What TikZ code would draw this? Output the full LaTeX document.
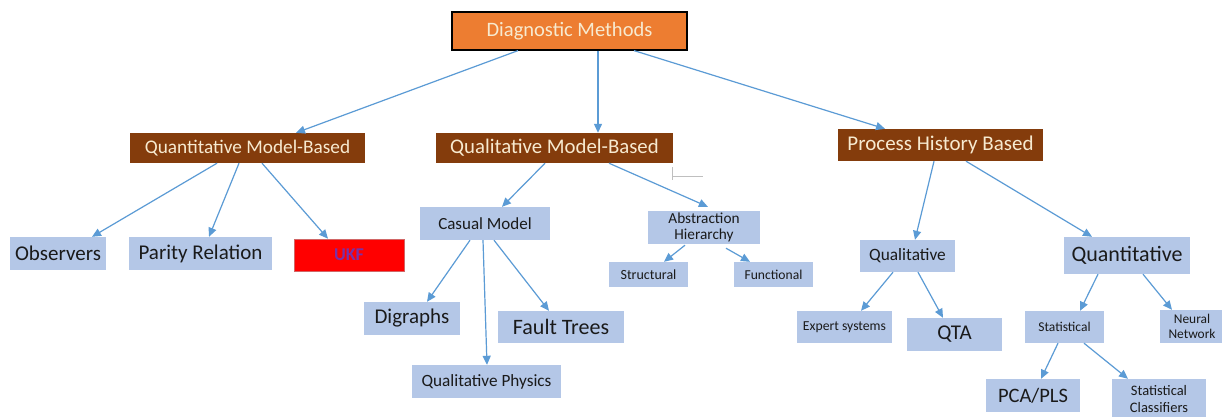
\documentclass[tikz,border=0pt]{standalone}
\usepackage{fontspec}
\setmainfont{Carlito}
\usetikzlibrary{arrows.meta}
\definecolor{linkblue}{HTML}{5B9BD5}
\definecolor{rootorange}{HTML}{ED7D31}
\definecolor{branchbrown}{HTML}{843C0C}
\definecolor{leafblue}{HTML}{B4C7E7}
\definecolor{cream}{HTML}{F7EAD0}
\definecolor{leaftext}{HTML}{1A1A1A}
\definecolor{ukfpurple}{HTML}{7A30A8}
\definecolor{markgrey}{HTML}{BFBFBF}
\newcommand{\fs}[1]{\fontsize{#1}{#1}\selectfont}
\tikzset{
  sz/.style 2 args={minimum width=#1pt, minimum height=#2pt},
  rootbox/.style={rectangle, inner sep=0pt, fill=rootorange, draw=black, line width=1.2pt, text=cream},
  branchbox/.style={rectangle, inner sep=0pt, fill=branchbrown, text=cream},
  leafbox/.style={rectangle, inner sep=0pt, fill=leafblue, text=leaftext, align=center},
  redbox/.style={rectangle, inner sep=0pt, fill=red, draw=red!70!black!60, line width=0.6pt, text=ukfpurple},
  link/.style={draw=linkblue, line width=1.2pt, -{Triangle[length=9pt,width=8pt]}},
}
\begin{document}
\begin{tikzpicture}[x=1pt,y=-1pt]
\useasboundingbox (0,0) rectangle (1222,416);
\fill[white] (0,0) rectangle (1222,416);

% top level
\node[rootbox, sz={235}{38}, font=\fs{20.5}] (dm) at (569.5,31) {Diagnostic Methods};

% second level
\node[branchbox, sz={235}{30}, font=\fs{19.3}] (qmb) at (247.5,148) {Quantitative Model-Based};
\node[branchbox, sz={237}{30}, font=\fs{20.8}] (lmb) at (554.5,148) {Qualitative Model-Based};
\node[branchbox, sz={205}{32}, font=\fs{21}] (phb) at (940.5,145) {Process History Based};

% quantitative model-based children
\node[leafbox, sz={96}{33}, font=\fs{21}] (obs) at (58,253.5) {Observers};
\node[leafbox, sz={143}{33}, font=\fs{21}] (par) at (200.5,253.5) {Parity Relation};
\node[redbox, sz={110}{32}, font=\fs{18}\bfseries] (ukf) at (349,255) {UKF};

% qualitative model-based children
\node[leafbox, sz={130}{33}, font=\fs{17}] (cas) at (485,223.5) {Casual Model};
\node[leafbox, sz={112}{33}, font={\fontsize{15.3}{16.5}\selectfont}] (abs) at (704,227.5) {Abstraction\\Hierarchy};
\node[leafbox, sz={79}{25}, font=\fs{14}] (str) at (648.5,274.5) {Structural};
\node[leafbox, sz={79}{25}, font=\fs{13.6}] (fun) at (773.5,274.5) {Functional};
\node[leafbox, sz={96}{33}, font=\fs{21}] (dig) at (412,318.5) {Digraphs};
\node[leafbox, sz={126}{32}, font=\fs{22}] (ft) at (561,327) {Fault Trees};
\node[leafbox, sz={149}{33}, font=\fs{17.2}] (qph) at (486.5,381.5) {Qualitative Physics};

% process history based children
\node[leafbox, sz={95}{32}, font=\fs{17.3}] (qual) at (907.5,256) {Qualitative};
\node[leafbox, sz={126}{37}, font=\fs{22}] (quan) at (1127,255.5) {Quantitative};
\node[leafbox, sz={95}{32}, font=\fs{13.7}] (exp) at (844.5,327) {Expert systems};
\node[leafbox, sz={95}{33}, font=\fs{21}] (qta) at (954.5,334.5) {QTA};
\node[leafbox, sz={79}{32}, font=\fs{13.5}] (sta) at (1064.5,327) {Statistical};
\node[leafbox, sz={64}{33}, font={\fontsize{13.4}{14.5}\selectfont}] (nn) at (1192,326.5) {Neural\\Network};
\node[leafbox, sz={94}{33}, font=\fs{20.5}] (pca) at (1033,395.5) {PCA/PLS};
\node[leafbox, sz={94}{40}, font={\fontsize{14.5}{17}\selectfont}] (cls) at (1159,399) {Statistical\\Classifiers};

% connectors
\draw[link] ([xshift=-51.5pt]dm.south) -- ([xshift=48.5pt]qmb.north);
\draw[link] ([xshift=28.5pt]dm.south) -- ([xshift=43.5pt]lmb.north);
\draw[link] ([xshift=64.5pt]dm.south) -- ([xshift=-55.5pt]phb.north);

\draw[link] ([xshift=-30.5pt]qmb.south) -- ([xshift=34pt]obs.north);
\draw[link] ([xshift=-8.5pt]qmb.south) -- ([xshift=8.5pt]par.north);
\draw[link] ([xshift=14.5pt]qmb.south) -- ([xshift=-21pt]ukf.north);

\draw[link] ([xshift=-9.5pt]lmb.south) -- ([xshift=17pt]cas.north);
\draw[link, shorten >=10pt] ([xshift=54.5pt]lmb.south) -- ([xshift=13pt]abs.north);

\draw[link] ([xshift=-15pt]cas.south) -- ([xshift=15pt]dig.north);
\draw[link] ([xshift=-2pt]cas.south) -- ([xshift=0.5pt]qph.north);
\draw[link] ([xshift=9pt]cas.south) -- ([xshift=-12pt]ft.north);

\draw[link] ([xshift=-19pt,yshift=-1pt]abs.south) -- ([xshift=15.5pt]str.north);
\draw[link] ([xshift=22pt,yshift=-4pt]abs.south) -- ([xshift=-23.5pt]fun.north);

\draw[link] ([xshift=-6.5pt]phb.south) -- ([xshift=7.5pt]qual.north);
\draw[link] ([xshift=25.5pt]phb.south) -- ([xshift=-35pt]quan.north);

\draw[link] ([xshift=-14.5pt]qual.south) -- ([xshift=16.5pt]exp.north);
\draw[link] ([xshift=10.5pt]qual.south) -- ([xshift=-11.5pt]qta.north);

\draw[link] ([xshift=-29pt]quan.south) -- ([xshift=15.5pt]sta.north);
\draw[link] ([xshift=16pt]quan.south) -- ([xshift=-20pt]nn.north);

\draw[link] ([xshift=-6.5pt]sta.south) -- ([xshift=8pt]pca.north);
\draw[link] ([xshift=19.5pt]sta.south) -- ([xshift=-31pt]cls.north);

% small grey tick beside the qualitative model-based box
\draw[markgrey, line width=0.8pt] (672,167) -- (672,180);
\draw[markgrey, line width=0.8pt] (672,176) -- (703,176);
\end{tikzpicture}
\end{document}
